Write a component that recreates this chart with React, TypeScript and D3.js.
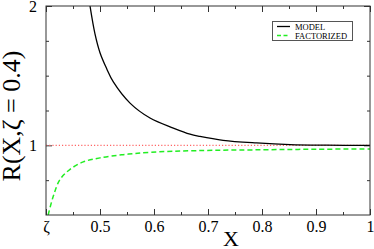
import React, { useRef, useEffect } from "react";
import * as d3 from "d3";

// readings from the picture
const modelX = [0.4815, 0.4907, 0.5, 0.5124, 0.5247, 0.5556, 0.5926, 0.6358, 0.6667, 0.685, 0.728, 0.79, 0.852, 0.92, 1.0];
const modelY = [2.0, 1.8, 1.665, 1.55, 1.455, 1.303, 1.196, 1.124, 1.08, 1.064, 1.036, 1.017, 1.005, 1.001, 1.0];
const factX = [0.404, 0.4136, 0.426, 0.444, 0.469, 0.5, 0.543, 0.593, 0.679, 0.8, 0.9, 1.0];
const factY = [0.5, 0.636, 0.755, 0.826, 0.881, 0.91, 0.933, 0.95, 0.962, 0.968, 0.972, 0.974];
const refX = [0.4, 1.0];
const refY = [1.0, 1.0];
const xMajor = [0.4, 0.5, 0.6, 0.7, 0.8, 0.9, 1.0];
const xLabels = ["ζ", "0.5", "0.6", "0.7", "0.8", "0.9", "1"];
const xMinor = [0.45, 0.55, 0.65, 0.75, 0.85, 0.95];
const yMajor = [1, 2];
const yLabels = ["1", "2"];
const yMinor = [0.75, 1.25, 1.5, 1.75];
const legendNames = ["MODEL", "FACTORIZED"];

const App = () => {
  const svgRef = useRef<SVGSVGElement>(null);

  useEffect(() => {
    const w = 374;
    const h = 249;
    const margin = { top: 6, right: 4, bottom: 34, left: 46 };
    const svg = d3.select(svgRef.current).attr("width", w).attr("height", h);
    svg.selectAll("*").remove();

    const x = d3.scaleLinear().domain([0.4, 1]).range([margin.left, w - margin.right]);
    const y = d3.scaleLinear().domain([0.5, 2]).range([h - margin.bottom, margin.top]);
    const font = "Liberation Serif, DejaVu Serif, serif";

    const ticks = (g) => {
      g.select(".domain").remove();
      g.selectAll(".tick line").attr("stroke", "#333");
      g.selectAll(".tick text").attr("font-family", font).attr("font-size", 16).attr("fill", "#000");
    };

    // bottom
    svg.append("g").attr("transform", `translate(0,${y(0.5)})`)
      .call(d3.axisBottom(x).tickValues(xMajor).tickSizeInner(-6).tickSizeOuter(0).tickPadding(6)
        .tickFormat((d, i) => xLabels[i]))
      .call(ticks);
    svg.append("g").attr("transform", `translate(0,${y(0.5)})`)
      .call(d3.axisBottom(x).tickValues(xMinor).tickSizeInner(-3).tickSizeOuter(0).tickFormat(() => ""))
      .call(ticks);
    // top
    svg.append("g").attr("transform", `translate(0,${y(2)})`)
      .call(d3.axisTop(x).tickValues(xMajor).tickSizeInner(-6).tickSizeOuter(0).tickFormat(() => ""))
      .call(ticks);
    svg.append("g").attr("transform", `translate(0,${y(2)})`)
      .call(d3.axisTop(x).tickValues(xMinor).tickSizeInner(-3).tickSizeOuter(0).tickFormat(() => ""))
      .call(ticks);
    // left
    svg.append("g").attr("transform", `translate(${x(0.4)},0)`)
      .call(d3.axisLeft(y).tickValues(yMajor).tickSizeInner(-6).tickSizeOuter(0).tickPadding(9)
        .tickFormat((d, i) => yLabels[i]))
      .call(ticks);
    svg.append("g").attr("transform", `translate(${x(0.4)},0)`)
      .call(d3.axisLeft(y).tickValues(yMinor).tickSizeInner(-3).tickSizeOuter(0).tickFormat(() => ""))
      .call(ticks);
    // right
    svg.append("g").attr("transform", `translate(${x(1)},0)`)
      .call(d3.axisRight(y).tickValues(yMajor).tickSizeInner(-6).tickSizeOuter(0).tickFormat(() => ""))
      .call(ticks);
    svg.append("g").attr("transform", `translate(${x(1)},0)`)
      .call(d3.axisRight(y).tickValues(yMinor).tickSizeInner(-3).tickSizeOuter(0).tickFormat(() => ""))
      .call(ticks);

    const line = d3.line().curve(d3.curveCatmullRom.alpha(0.5));
    const clip = svg.append("defs").append("clipPath").attr("id", "plot");
    clip.append("rect").attr("x", x(0.4)).attr("y", y(2)).attr("width", x(1) - x(0.4)).attr("height", y(0.5) - y(2));
    const plot = svg.append("g").attr("clip-path", "url(#plot)");

    plot.append("path")
      .attr("d", line(refX.map((v, i) => [x(v), y(refY[i])])))
      .attr("fill", "none").attr("stroke", "#ff6666").attr("stroke-width", 1.2).attr("stroke-dasharray", "1.2,2");
    plot.append("path")
      .attr("d", line(factX.map((v, i) => [x(v), y(factY[i])])))
      .attr("fill", "none").attr("stroke", "#22ee22").attr("stroke-width", 1.5).attr("stroke-dasharray", "5,3");
    plot.append("path")
      .attr("d", line(modelX.map((v, i) => [x(v), y(modelY[i])])))
      .attr("fill", "none").attr("stroke", "#000").attr("stroke-width", 1.3);

    // frame
    svg.append("rect")
      .attr("x", x(0.4)).attr("y", y(2)).attr("width", x(1) - x(0.4)).attr("height", y(0.5) - y(2))
      .attr("fill", "none").attr("stroke", "#333").attr("stroke-width", 1);

    // legend
    const lg = svg.append("g");
    lg.append("rect").attr("x", 272.5).attr("y", 21.5).attr("width", 80).attr("height", 19)
      .attr("fill", "#fff").attr("stroke", "#555").attr("stroke-width", 1);
    legendNames.forEach((name, i) => {
      const ly = 26.5 + i * 9;
      lg.append("line").attr("x1", 277).attr("x2", 290).attr("y1", ly).attr("y2", ly)
        .attr("stroke", i === 0 ? "#000" : "#22ee22").attr("stroke-width", 1.3)
        .attr("stroke-dasharray", i === 0 ? null : "4,2.5");
      lg.append("text").attr("x", 295).attr("y", ly + 3).text(name)
        .attr("font-family", font).attr("font-size", 8.5).attr("fill", "#000");
    });

    // axis titles
    svg.append("text").attr("x", 231).attr("y", 246).attr("text-anchor", "middle")
      .attr("font-family", font).attr("font-size", 22).text("X");
    svg.append("text").attr("transform", "translate(20,116) rotate(-90)").attr("text-anchor", "middle")
      .attr("font-family", font).attr("font-size", 26).text("R(X,ζ = 0.4)");
  }, []);

  return <svg ref={svgRef} style={{ position: "absolute", left: 0, top: 0, background: "#fff" }}></svg>;
};

export default App;
